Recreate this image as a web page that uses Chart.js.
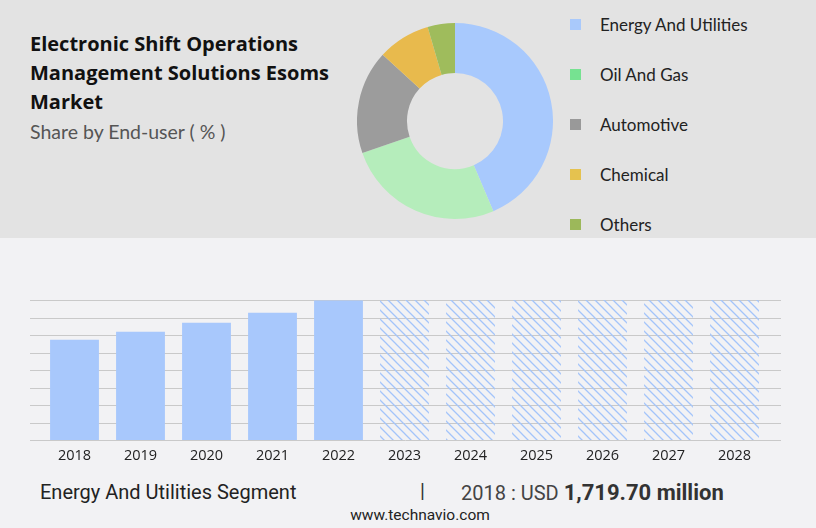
<!DOCTYPE html>
<html>
<head>
<meta charset="utf-8">
<script src="https://cdn.jsdelivr.net/npm/chart.js@4.4.0/dist/chart.umd.min.js"></script>
<style>
  body { margin: 0; width: 816px; height: 528px; background: #f2f2f4; position: relative; overflow: hidden; font-family: "Open Sans", sans-serif; }
  #top { position: absolute; left: 0; top: 0; width: 816px; height: 238px; background: #e3e3e3; }
  #title { position: absolute; left: 30px; top: 29px; font-weight: 700; font-size: 20px; line-height: 29px; color: #111; }
  #subtitle { position: absolute; left: 30px; top: 120px; font-family: Lato, sans-serif; font-size: 19.5px; color: #555; }
  #donutWrap { position: absolute; left: 357px; top: 23px; width: 196px; height: 196px; }
  #legend { position: absolute; left: 570px; top: 14px; }
  .leg { height: 50px; width: 240px; position: relative; font-family: Lato, sans-serif; font-size: 17px; color: #222; white-space: nowrap; }
  .leg span.sw { position: absolute; left: 0; top: 5px; width: 11px; height: 11px; }
  .leg span.tx { position: absolute; left: 30px; top: 1px; line-height: 20px; }
  #barWrap { position: absolute; left: 0; top: 290px; width: 816px; height: 180px; }
  #footer { position: absolute; left: 40px; top: 480px; font-family: Roboto, sans-serif; font-size: 20px; color: #222; }
  #sep { position: absolute; left: 420px; top: 479px; font-family: Roboto, sans-serif; font-size: 20px; color: #333; }
  #val { position: absolute; left: 461px; top: 480px; font-family: Roboto, sans-serif; font-size: 20px; color: #444; white-space: nowrap; }
  #val b { color: #333; font-size: 22px; }
  #site { position: absolute; left: 0; width: 840px; text-align: center; top: 506px; font-family: Roboto, sans-serif; font-size: 15.5px; color: #222; }
</style>
</head>
<body>
<div id="top"></div>
<div id="title">Electronic Shift Operations<br>Management Solutions Esoms<br>Market</div>
<div id="subtitle">Share by End-user ( % )</div>
<div id="donutWrap"><canvas id="donut"></canvas></div>
<div id="legend"></div>
<div id="barWrap"><canvas id="bars"></canvas></div>
<div id="footer">Energy And Utilities Segment</div>
<div id="sep">|</div>
<div id="val">2018 : USD <b>1,719.70 million</b></div>
<div id="site">www.technavio.com</div>

<script>
// share by end-user (%)
var segments = ["Energy And Utilities", "Oil And Gas", "Automotive", "Chemical", "Others"];
var shares = [43.6, 26.1, 17.1, 8.7, 4.5];
var sliceColors = ["#a8c9fd", "#b5edbb", "#9c9c9c", "#e8ba4d", "#9fbc5c"];
var swatchColors = ["#a9c9fb", "#76e291", "#999999", "#e5c24f", "#9cb85a"];

// segment size by year (USD million), forecast years drawn as hatched placeholders
var years = ["2018", "2019", "2020", "2021", "2022", "2023", "2024", "2025", "2026", "2027", "2028"];
var actual = [1719.7, 1856, 2010, 2180, 2390, null, null, null, null, null, null];
var forecast = [null, null, null, null, null, 2400, 2400, 2400, 2400, 2400, 2400];
var yMax = 2400;
var yStep = 300;

function init() {
  buildLegend();
  drawDonut();
  drawBars();
}

function buildLegend() {
  var legend = document.getElementById("legend");
  for (var i = 0; i < segments.length; i++) {
    var row = document.createElement("div");
    row.className = "leg";
    row.innerHTML = '<span class="sw" style="background:' + swatchColors[i] + '"></span><span class="tx">' + segments[i] + '</span>';
    legend.appendChild(row);
  }
}

function drawDonut() {
  var ctx = document.getElementById("donut").getContext("2d");
  new Chart(ctx, {
    type: "doughnut",
    data: {
      labels: segments,
      datasets: [{ data: shares, backgroundColor: sliceColors, borderWidth: 0 }]
    },
    options: {
      responsive: true,
      maintainAspectRatio: false,
      animation: false,
      cutout: "49%",
      plugins: { legend: { display: false }, tooltip: { enabled: false } }
    }
  });
}

function hatch() {
  var n = 9;
  var c = document.createElement("canvas");
  c.width = n; c.height = n;
  var g = c.getContext("2d");
  g.strokeStyle = "#a3c4fa";
  g.lineWidth = 1.3;
  g.beginPath();
  g.moveTo(-1, -1); g.lineTo(n + 1, n + 1);
  g.moveTo(-1, n - 1); g.lineTo(1, n + 1);
  g.moveTo(n - 1, -1); g.lineTo(n + 1, 1);
  g.stroke();
  return g.createPattern(c, "repeat");
}

// grid lines run wider than the category band
var wideGrid = {
  id: "wideGrid",
  beforeDatasetsDraw: function(chart) {
    var y = chart.scales.y;
    var ctx = chart.ctx;
    ctx.save();
    ctx.strokeStyle = "#c9c9c9";
    ctx.lineWidth = 1;
    y.ticks.forEach(function(t) {
      var py = Math.round(y.getPixelForValue(t.value)) + 0.5;
      ctx.beginPath();
      ctx.moveTo(30, py);
      ctx.lineTo(781, py);
      ctx.stroke();
    });
    ctx.restore();
  }
};

function drawBars() {
  var ctx = document.getElementById("bars").getContext("2d");
  new Chart(ctx, {
    type: "bar",
    data: {
      labels: years,
      datasets: [
        { data: actual, backgroundColor: "#a8c8fc", barPercentage: 0.74, categoryPercentage: 1, grouped: false },
        { data: forecast, backgroundColor: hatch(), barPercentage: 0.74, categoryPercentage: 1, grouped: false }
      ]
    },
    options: {
      responsive: true,
      maintainAspectRatio: false,
      animation: false,
      layout: { padding: { left: 41.5, right: 48.5, top: 10, bottom: 0 } },
      scales: {
        x: {
          grid: { display: false },
          border: { display: false },
          ticks: { color: "#222", padding: -1, font: { family: "Open Sans", size: 14.5 } },
          afterFit: function(s) { s.height = 30; }
        },
        y: {
          display: false,
          min: 0,
          max: yMax,
          ticks: { stepSize: yStep }
        }
      },
      plugins: { legend: { display: false }, tooltip: { enabled: false } }
    },
    plugins: [wideGrid]
  });
}

init();
</script>
</body>
</html>
